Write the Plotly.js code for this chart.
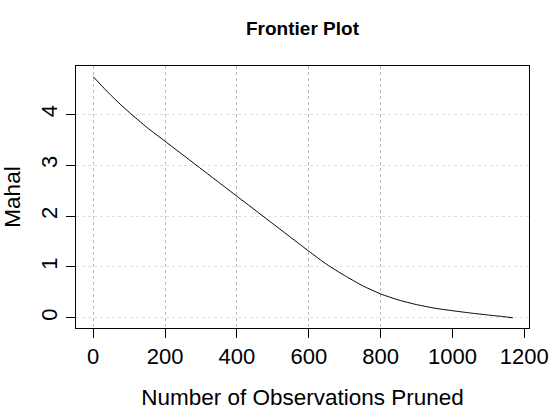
<!DOCTYPE html>
<html>
<head>
<meta charset="utf-8">
<script src="https://cdn.plot.ly/plotly-3.0.1.min.js"></script>
<style>html,body{margin:0;padding:0;background:#fff;}#chart{width:558px;height:414px;}</style>
</head>
<body>
<div id="chart"></div>
<script>
const pruned = [0, 25, 50, 75, 100, 150, 200, 250, 300, 350, 400, 450, 500, 550, 600, 650, 700, 750, 800, 850, 900, 950, 1000, 1050, 1100, 1140, 1168];
const mahal  = [4.74, 4.55, 4.37, 4.20, 4.04, 3.74, 3.47, 3.20, 2.93, 2.66, 2.39, 2.12, 1.85, 1.58, 1.31, 1.05, 0.83, 0.63, 0.47, 0.35, 0.26, 0.19, 0.14, 0.095, 0.055, 0.025, 0.0];
const xTicks = [0, 200, 400, 600, 800, 1000, 1200];
const xGrid = [0, 200, 400, 600, 800];
const yTicks = [0, 1, 2, 3, 4];

const FONT = 'Liberation Sans, Arial, sans-serif';
const xRange = [-48, 1213];
const yRange = [-0.2, 4.95];

const traces = [{
  x: [pruned[0]], y: [mahal[0]], xaxis: 'x2', type: 'scatter', mode: 'markers',
  marker: {opacity: 0}, hoverinfo: 'skip', showlegend: false
}, {
  x: pruned, y: mahal, type: 'scatter', mode: 'lines',
  line: {color: '#000', width: 1, shape: 'spline', smoothing: 0.6}, hoverinfo: 'skip', showlegend: false
}];

const layout = {
  width: 558, height: 414,
  paper_bgcolor: '#fff', plot_bgcolor: '#fff',
  margin: {l: 76, r: 29, t: 66, b: 86},
  font: {family: FONT, color: '#000', size: 22},
  title: {text: 'Frontier Plot', font: {family: FONT, size: 19, weight: 'bold', color: '#000'},
          x: 0.5, xref: 'paper', xanchor: 'center', y: 1 - 28/414, yref: 'container', yanchor: 'middle'},
  xaxis: {
    range: xRange, tickvals: xTicks, ticktext: xTicks.map(String),
    ticks: 'outside', ticklen: 9, tickcolor: '#000', tickwidth: 1,
    showline: true, mirror: true, linecolor: '#000', linewidth: 1,
    showgrid: false, zeroline: false,
    tickfont: {size: 22, family: FONT},
    title: {text: 'Number of Observations Pruned', font: {size: 22.5, family: FONT}, standoff: 20}
  },
  xaxis2: {
    range: xRange, overlaying: 'x', tickvals: xGrid, showticklabels: false, ticks: '',
    showgrid: true, gridcolor: '#bcbcbc', griddash: 'dot', gridwidth: 1,
    zeroline: false, showline: false
  },
  yaxis: {
    range: yRange, tickvals: yTicks, ticktext: yTicks.map(String), tickangle: -90,
    ticks: 'outside', ticklen: 9, tickcolor: '#000', tickwidth: 1,
    showline: true, mirror: true, linecolor: '#000', linewidth: 1,
    showgrid: true, gridcolor: '#e0e0e0', griddash: 'dot', gridwidth: 1,
    zeroline: false,
    tickfont: {size: 22, family: FONT},
    title: {text: 'Mahal', font: {size: 22.5, family: FONT}, standoff: 12}
  }
};

Plotly.newPlot('chart', traces, layout, {displayModeBar: false, staticPlot: true});
</script>
</body>
</html>
